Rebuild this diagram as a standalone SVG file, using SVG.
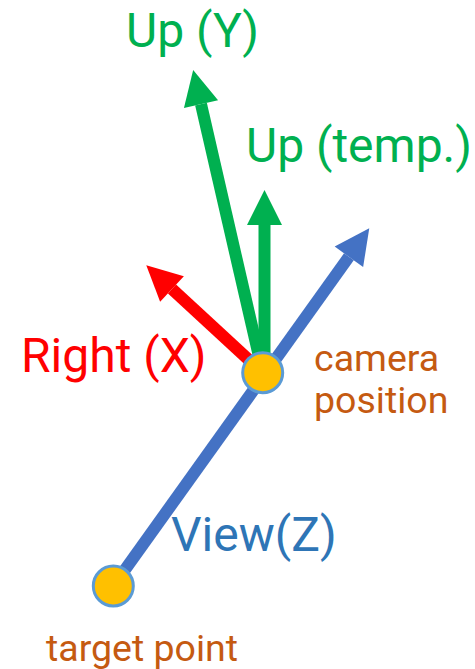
<svg xmlns="http://www.w3.org/2000/svg" width="475" height="669" viewBox="0 0 475 669">
  <style>
    .big { font-family: Roboto, "Liberation Sans", sans-serif; font-size: 48px; }
    .small { font-family: Roboto, "Liberation Sans", sans-serif; font-size: 37.5px; fill: #C55A11; }
    .vec { stroke-width: 12; fill: none; stroke-linecap: butt; }
    .pt { fill: #FFC000; stroke: #5B9BD5; stroke-width: 3; }
  </style>
  <defs>
    <marker id="headBlue" markerUnits="userSpaceOnUse" markerWidth="36" markerHeight="36" refX="0" refY="17.5" orient="auto" overflow="visible">
      <path d="M0,0 L35,17.5 L0,35 z" fill="#4472C4"/>
    </marker>
    <marker id="headGreen" markerUnits="userSpaceOnUse" markerWidth="36" markerHeight="36" refX="0" refY="17.5" orient="auto" overflow="visible">
      <path d="M0,0 L35,17.5 L0,35 z" fill="#00B050"/>
    </marker>
    <marker id="headRed" markerUnits="userSpaceOnUse" markerWidth="36" markerHeight="36" refX="0" refY="17.5" orient="auto" overflow="visible">
      <path d="M0,0 L35,17.5 L0,35 z" fill="#FF0000"/>
    </marker>
  </defs>
  <g id="connectors">
    <line id="view-z" class="vec" x1="113.3" y1="586" x2="348.9" y2="256.8" stroke="#4472C4" marker-end="url(#headBlue)"/>
    <line id="up-y" class="vec" x1="262.7" y1="372.7" x2="201" y2="104.2" stroke="#00B050" marker-end="url(#headGreen)"/>
    <line id="up-temp" class="vec" x1="264.5" y1="372.7" x2="264.5" y2="225" stroke="#00B050" marker-end="url(#headGreen)"/>
    <line id="right-x" class="vec" x1="262.7" y1="372.7" x2="172" y2="289" stroke="#FF0000" marker-end="url(#headRed)"/>
  </g>
  <g id="camera-position">
    <circle class="pt" cx="262.7" cy="372.7" r="20"/>
    <text class="small" x="314" y="371">camera</text>
    <text class="small" x="314" y="413">position</text>
  </g>
  <g id="target-point">
    <circle class="pt" cx="113.3" cy="586" r="20"/>
    <text class="small" x="46" y="661">target point</text>
  </g>
  <g id="label-up-y">
    <text class="big" x="126" y="47" fill="#00B050">Up (Y)</text>
  </g>
  <g id="label-up-temp">
    <text class="big" x="246" y="162" fill="#00B050">Up (temp.)</text>
  </g>
  <g id="label-right-x">
    <text class="big" x="21" y="372" fill="#FF0000">Right (X)</text>
  </g>
  <g id="label-view-z">
    <text class="big" x="171" y="551" fill="#2E75B6">View(Z)</text>
  </g>
</svg>
